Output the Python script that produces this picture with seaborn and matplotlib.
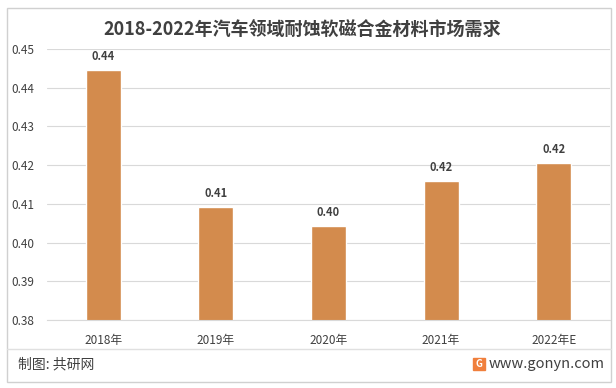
# draws the 2018-2022 market demand bar chart
import matplotlib.pyplot as plt
import matplotlib.patches as patches
import numpy as np
import pandas as pd
import seaborn as sns

# chart data
years = ['2018年', '2019年', '2020年', '2021年', '2022年E']
demand = [0.4446, 0.4092, 0.4043, 0.4159, 0.4205]
bar_labels = ['0.44', '0.41', '0.40', '0.42', '0.42']

df = pd.DataFrame({'Year': years, 'Demand': demand})

sns.set_style('white')
plt.rcParams['font.family'] = ['Noto Sans CJK SC', 'DejaVu Sans']

text_color = '#404040'
grid_color = '#d9d9d9'
bar_color = '#d38b4d'

fig = plt.figure(figsize=(6.16, 3.88), dpi=100)
ax = fig.add_axes([47 / 616, 1 - 320 / 388, 563 / 616, 271 / 388])

sns.barplot(data=df, x='Year', y='Demand', color=bar_color, width=0.31,
            saturation=1, ax=ax)

# axes styling
ax.set_ylim(0.38, 0.45)
ax.set_xlim(-0.5, 4.5)
ax.set_yticks(np.arange(0.38, 0.4501, 0.01))
ax.set_yticklabels([f'{v:.2f}' for v in np.arange(0.38, 0.4501, 0.01)])
ax.yaxis.grid(True, color=grid_color, linewidth=0.8)
ax.set_axisbelow(True)
ax.set_xlabel('')
ax.set_ylabel('')
for side in ['top', 'right', 'left']:
    ax.spines[side].set_visible(False)
ax.spines['bottom'].set_color(grid_color)
ax.tick_params(axis='y', length=0, labelsize=8.5, labelcolor=text_color, pad=9)
ax.tick_params(axis='x', which='major', length=0, labelsize=8.5,
               labelcolor=text_color, pad=10)
ax.set_xticks(np.arange(-0.5, 5, 1), minor=True)
ax.tick_params(axis='x', which='minor', length=4, color=grid_color)

# value labels above bars
for container in ax.containers:
    ax.bar_label(container, labels=bar_labels, padding=5, fontsize=8,
                 fontweight='bold', color=text_color)

# title
fig.text(0.49, 1 - 30 / 388, '2018-2022年汽车领域耐蚀软磁合金材料市场需求',
         ha='center', va='center', fontsize=13, fontweight='bold',
         color=text_color)

# outer frame and footer separator
fig.add_artist(patches.Rectangle((7 / 616, 1 - 382 / 388), 604 / 616, 374 / 388,
                                 transform=fig.transFigure, fill=False,
                                 edgecolor='#d0d0d0', linewidth=1))
fig.add_artist(plt.Line2D([7 / 616, 611 / 616], [1 - 349 / 388, 1 - 349 / 388],
                          transform=fig.transFigure, color='#e0e0e0',
                          linewidth=1))

# footer texts
fig.text(18 / 616, 1 - 364 / 388, '制图: 共研网', ha='left', va='center',
         fontsize=10, color=text_color)
fig.add_artist(patches.Rectangle((473 / 616, 1 - 370 / 388), 12 / 616, 12 / 388,
                                 transform=fig.transFigure, color='#f07f3c'))
fig.text(479 / 616, 1 - 364 / 388, 'G', ha='center', va='center', fontsize=7,
         fontweight='bold', color='white')
fig.text(605 / 616, 1 - 364 / 388, 'www.gonyn.com', ha='right', va='center',
         fontsize=10.5, color=text_color)

fig.savefig('out.png', dpi=100)
